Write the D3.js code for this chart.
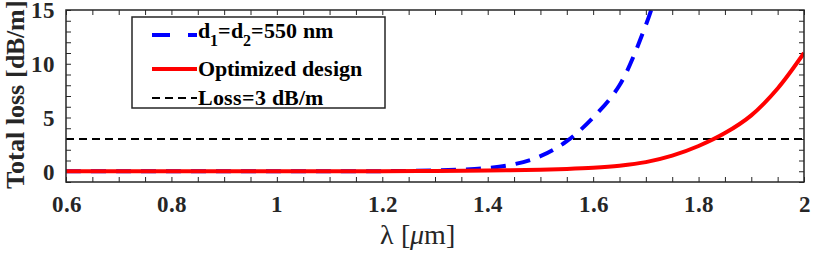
<html>
<head>
<meta charset="utf-8">
<script src="https://cdn.jsdelivr.net/npm/d3@7"></script>
<style>
@font-face { font-family: "SerifX"; src: local("Liberation Serif Bold"), local("LiberationSerif-Bold"); font-weight: 700; }
@font-face { font-family: "SerifX"; src: local("Liberation Serif"), local("LiberationSerif"); font-weight: 400; }
@font-face { font-family: "SerifX"; src: local("Liberation Serif Italic"), local("LiberationSerif-Italic"); font-weight: 400; font-style: italic; }
</style>
</head>
<body style="margin:0">
<svg id="fig" width="813" height="255"></svg>
<script>
// wavelength samples [um] and total loss [dB/m]
var lambdaBase = [0.6, 0.7, 0.8, 0.9, 1.0, 1.1, 1.2, 1.25, 1.3, 1.35, 1.4, 1.45, 1.5, 1.55, 1.6, 1.65, 1.7, 1.72];
var lossBase   = [0, 0, 0, 0, 0, 0, 0.01, 0.03, 0.07, 0.15, 0.3, 0.65, 1.4, 2.8, 5.0, 8.0, 13.6, 16.5];

var lambdaOpt = [0.6, 0.8, 1.0, 1.2, 1.3, 1.4, 1.5, 1.55, 1.6, 1.65, 1.7, 1.75, 1.8, 1.85, 1.9, 1.95, 2.0];
var lossOpt   = [0, 0, 0, 0.01, 0.03, 0.07, 0.15, 0.22, 0.33, 0.52, 0.85, 1.45, 2.35, 3.55, 5.2, 7.7, 11.0];

var lossLimit = 3;

var xTicks = [0.6, 0.8, 1, 1.2, 1.4, 1.6, 1.8, 2];
var yTicks = [0, 5, 10, 15];
var legendLabels = ["Optimized design", "Loss=3 dB/m"];

var margin = {top: 10, right: 9, bottom: 73, left: 66},
    width = 813 - margin.left - margin.right,
    height = 255 - margin.top - margin.bottom;

var ink = "#262626";
var serif = "SerifX, Liberation Serif, Tinos, serif";

var root = d3.select("#fig");
var svg = root.append("g")
    .attr("transform", "translate(" + margin.left + "," + margin.top + ")");

var x = d3.scaleLinear().domain([0.6, 2]).range([0, width]);
var y = d3.scaleLinear().domain([-1, 15]).range([height, 0]);

svg.append("clipPath").attr("id", "clip")
    .append("rect").attr("width", width).attr("height", height);

// axes, ticks inside, box on all sides
function styleAxis(g) {
    g.attr("font-family", serif).attr("font-size", 23);
    g.select(".domain").remove();
    g.selectAll("line").attr("stroke", ink).attr("stroke-width", 1);
}

var xMinor = d3.range(0.6, 2.0001, 0.05);
var yMinor = d3.range(-1, 15.0001, 1);

svg.append("g").attr("transform", "translate(0," + height + ")")
    .call(d3.axisBottom(x).tickValues(xMinor).tickSize(-5).tickFormat(""))
    .call(styleAxis);
svg.append("g")
    .call(d3.axisTop(x).tickValues(xMinor).tickSize(-5).tickFormat(""))
    .call(styleAxis);
svg.append("g")
    .call(d3.axisLeft(y).tickValues(yMinor).tickSize(-5).tickFormat(""))
    .call(styleAxis);
svg.append("g").attr("transform", "translate(" + width + ",0)")
    .call(d3.axisRight(y).tickValues(yMinor).tickSize(-5).tickFormat(""))
    .call(styleAxis);

svg.append("g").attr("transform", "translate(0," + height + ")")
    .call(d3.axisBottom(x).tickValues(xTicks).tickSize(0).tickPadding(14).tickFormat(d3.format("")))
    .call(styleAxis);
svg.append("g")
    .call(d3.axisLeft(y).tickValues(yTicks).tickSize(0).tickPadding(11))
    .call(styleAxis)
    .selectAll("text").attr("dy", "0.34em");

svg.selectAll(".tick text")
    .attr("fill", ink)
    .attr("font-family", serif)
    .attr("font-size", 23)
    .attr("font-weight", "bold");

// data lines
var line = d3.line()
    .x(function(d) { return x(d[0]); })
    .y(function(d) { return y(d[1]); })
    .curve(d3.curveCatmullRom.alpha(0.5));

var plot = svg.append("g").attr("clip-path", "url(#clip)");

plot.append("line")
    .attr("x1", x(0.6)).attr("x2", x(2))
    .attr("y1", y(lossLimit)).attr("y2", y(lossLimit))
    .attr("stroke", "#000").attr("stroke-width", 2)
    .attr("stroke-dasharray", "8,5");

plot.append("path")
    .datum(d3.zip(lambdaBase, lossBase))
    .attr("d", line)
    .attr("fill", "none").attr("stroke", "#0000ff").attr("stroke-width", 4)
    .attr("stroke-dasharray", "15,10");

plot.append("path")
    .datum(d3.zip(lambdaOpt, lossOpt))
    .attr("d", line)
    .attr("fill", "none").attr("stroke", "#ff0000").attr("stroke-width", 4);

// frame
svg.append("rect")
    .attr("width", width).attr("height", height)
    .attr("fill", "none").attr("stroke", ink).attr("stroke-width", 1.5);

// axis labels (in page coordinates)
var xl = root.append("text")
    .attr("x", margin.left + width / 2 - 18)
    .attr("y", margin.top + height + 62)
    .attr("text-anchor", "middle")
    .attr("fill", ink)
    .attr("font-family", serif)
    .attr("font-size", 28);
xl.append("tspan").text("λ [");
xl.append("tspan").attr("font-style", "italic").text("μ");
xl.append("tspan").text("m]");

root.append("text")
    .attr("transform", "rotate(-90)")
    .attr("x", -(margin.top + height / 2) + 2)
    .attr("y", 24)
    .attr("text-anchor", "middle")
    .attr("fill", ink)
    .attr("font-family", serif)
    .attr("font-size", 26)
    .attr("font-weight", "bold")
    .text("Total loss [dB/m]");

// legend
var lg = root.append("g").attr("transform", "translate(132,17)");
lg.append("rect").attr("width", 253).attr("height", 91)
    .attr("fill", "#fff").attr("stroke", ink).attr("stroke-width", 1.5);

var rows = [
    {y: 18, color: "#0000ff", w: 4, dash: "18,18"},
    {y: 52, color: "#ff0000", w: 4, dash: null},
    {y: 81, color: "#000", w: 2, dash: "8,5"}
];
rows.forEach(function(r) {
    lg.append("line")
        .attr("x1", 20).attr("x2", 65)
        .attr("y1", r.y).attr("y2", r.y)
        .attr("stroke", r.color).attr("stroke-width", r.w)
        .attr("stroke-dasharray", r.dash);
});

var t1 = root.append("text").attr("x", 198).attr("y", 38)
    .attr("fill", "#000")
    .attr("font-family", serif)
    .attr("font-size", 22).attr("font-weight", "bold");
t1.append("tspan").text("d");
t1.append("tspan").attr("dy", 8).attr("font-size", 16).text("1");
t1.append("tspan").attr("dy", -8).text("=d");
t1.append("tspan").attr("dy", 8).attr("font-size", 16).text("2");
t1.append("tspan").attr("dy", -8).text("=550 nm");

root.selectAll(".lt").data(legendLabels).enter()
    .append("text")
    .attr("x", 198)
    .attr("y", function(d, i) { return [76, 105][i]; })
    .attr("fill", "#000")
    .attr("font-family", serif)
    .attr("font-size", 22).attr("font-weight", "bold")
    .text(function(d) { return d; });
</script>
</body>
</html>
